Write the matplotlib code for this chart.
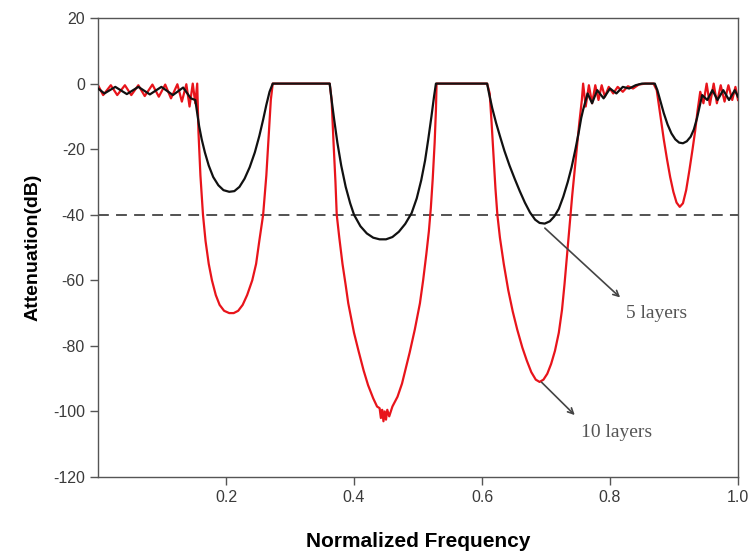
import matplotlib.pyplot as plt

plt.rcParams["axes.unicode_minus"] = False

# 5 layers (black)
x5 = [0.0, 0.01, 0.027, 0.045, 0.063, 0.081, 0.099, 0.117, 0.133, 0.145, 0.152,
      0.155, 0.158, 0.162, 0.167, 0.173, 0.18, 0.188, 0.196, 0.205, 0.213, 0.221, 0.229, 0.237,
      0.245, 0.252, 0.258, 0.263, 0.268, 0.273,
      0.362, 0.365, 0.369, 0.374, 0.38, 0.387, 0.394, 0.40, 0.41, 0.42, 0.43, 0.44, 0.45, 0.46,
      0.47, 0.48, 0.49, 0.498, 0.505, 0.511, 0.516, 0.521, 0.525, 0.528,
      0.608, 0.611, 0.616, 0.622, 0.628, 0.635, 0.643, 0.651, 0.659, 0.667, 0.675, 0.683, 0.69,
      0.698, 0.706, 0.713, 0.72, 0.727, 0.734, 0.74, 0.746, 0.751, 0.755, 0.758,
      0.765, 0.772, 0.78, 0.79, 0.80, 0.81, 0.82, 0.83, 0.84, 0.85, 0.87,
      0.874, 0.879, 0.884, 0.89, 0.896, 0.902, 0.908, 0.914, 0.92, 0.926, 0.931, 0.936, 0.94, 0.944,
      0.952, 0.96, 0.968, 0.977, 0.986, 0.995, 1.0]
y5 = [-1.5, -3.0, -1.0, -3.2, -1.0, -3.3, -1.0, -3.5, -1.2, -4.5, -5,
      -9, -13, -17, -21, -25, -28.5, -31, -32.5, -33, -32.8, -31.5, -29, -25.5,
      -21, -16, -11, -6.5, -2.5, 0,
      0, -5, -11, -18, -25, -31.5, -36.5, -40, -43.5, -45.7, -47, -47.5, -47.5, -46.8,
      -45.2, -42.8, -39.5, -35, -29.5, -23.5, -17, -10, -4, 0,
      0, -3, -7.5, -12, -16, -20.5, -25, -29, -32.8, -36.3, -39.3, -41.5, -42.5,
      -42.7, -42, -40.5, -38.2, -34.5, -30, -25.5, -20, -15, -10.5, -8,
      -3, -6, -2, -4.5, -1.5, -3, -1, -1.5, -0.5, 0, 0,
      -2, -5.5, -9, -12.5, -15.2, -17, -18, -18.2, -17.6, -16.2, -14, -10.5, -7, -3.5,
      -5, -2, -5, -2, -5, -2, -4]

# 10 layers (red)
x10 = [0.0, 0.008, 0.02, 0.03, 0.042, 0.052, 0.063, 0.073, 0.085, 0.095, 0.105, 0.114,
       0.124, 0.131, 0.138, 0.143, 0.148, 0.152, 0.155,
       0.157, 0.16, 0.164, 0.168, 0.173, 0.178, 0.184, 0.19, 0.197, 0.205, 0.212, 0.219, 0.226,
       0.233, 0.241, 0.247, 0.252, 0.258, 0.263, 0.267, 0.27, 0.273,
       0.362, 0.365, 0.368, 0.371, 0.373, 0.377, 0.382, 0.387, 0.391, 0.396, 0.40, 0.407, 0.415,
       0.422, 0.43, 0.436,
       0.44, 0.442, 0.444, 0.446, 0.448, 0.45, 0.452, 0.455, 0.46,
       0.468, 0.475, 0.48, 0.487, 0.495, 0.503, 0.508, 0.513, 0.517, 0.52, 0.523, 0.526, 0.528, 0.529,
       0.608, 0.612, 0.615, 0.618, 0.621, 0.624, 0.628, 0.634, 0.641, 0.648, 0.655, 0.663, 0.67,
       0.677, 0.684, 0.69, 0.696, 0.702, 0.708, 0.714, 0.72, 0.725, 0.729, 0.733, 0.737, 0.741,
       0.745, 0.749, 0.752, 0.756,
       0.758, 0.762, 0.767, 0.772, 0.777, 0.782, 0.787, 0.792, 0.798, 0.805, 0.812, 0.82, 0.828,
       0.836, 0.845, 0.855, 0.868,
       0.873, 0.876, 0.88, 0.884, 0.889, 0.894, 0.899, 0.904, 0.909, 0.914, 0.919, 0.924, 0.929,
       0.933, 0.937, 0.941,
       0.946, 0.951, 0.956, 0.962, 0.967, 0.973, 0.979, 0.985, 0.991, 0.996, 1.0]
y10 = [-0.5, -3.5, -0.5, -3.5, -0.5, -3.5, -0.5, -3.8, -0.3, -4.0, -0.3, -4.5,
       -0.2, -5.5, -0.2, -7, 0, -6, 0,
       -15, -28, -40, -48, -55, -60, -64.5, -67.5, -69.3, -70, -70, -69.3, -67.5,
       -64.5, -60, -55, -48, -40, -28, -15, -5, 0,
       0, -5, -18, -30, -40, -47, -55, -61.5, -67, -72, -76, -81.5, -87.5,
       -92, -96, -98.5,
       -99, -102, -99.5, -103, -100, -102.5, -99.5, -101.5, -98.5,
       -95.5, -91.5, -87.5, -82, -75, -67, -60, -52, -45, -38, -29, -18, -8, 0,
       0, -3, -12, -22, -32, -40, -47, -55, -63, -69.5, -75, -80.5, -84.5,
       -88, -90.3, -91, -90.3, -88.5, -85.5, -81.5, -76, -69, -61, -52, -43, -34,
       -26, -18, -12, -5,
       0, -7, -0.5, -6, -0.5, -5, -0.5, -4, -1, -3, -1, -2.5, -0.8,
       -1.5, -0.3, 0, 0,
       -2, -6, -11.5, -17, -23, -28.5, -33, -36.3, -37.6, -36.5, -32.5, -26.5, -20,
       -14.5, -8, -2.5,
       -6, 0, -6.5, 0, -6, -0.5, -5.5, -0.5, -5, -1, -5]

threshold = -40
yticks = [20, 0, -20, -40, -60, -80, -100, -120]
xticks = [0.2, 0.4, 0.6, 0.8, 1.0]

fig = plt.figure(figsize=(7.5, 5.53), dpi=100)
ax = fig.add_axes([0.1307, 0.1374, 0.8533, 0.830])

ax.axhline(threshold, color="#444444", lw=1.3, ls=(0, (6, 4)), zorder=1)
ax.plot(x10, y10, color="#e8141b", lw=1.6, zorder=2)
ax.plot(x5, y5, color="#111111", lw=1.6, zorder=3)

ax.set_xlim(0, 1.0)
ax.set_ylim(-120, 20)
ax.set_xticks(xticks)
ax.set_xticklabels(["0.2", "0.4", "0.6", "0.8", "1.0"])
ax.set_yticks(yticks)

for s in ax.spines.values():
    s.set_color("#555555")
    s.set_linewidth(1.0)
ax.tick_params(direction="out", length=6, width=1, color="#555555",
               labelsize=11.5, labelcolor="#3a3a3a")
for lab in ax.get_xticklabels() + ax.get_yticklabels():
    lab.set_family("Liberation Sans")

ax.set_xlabel("Normalized Frequency", fontsize=15, fontweight="bold",
              family="Liberation Sans", labelpad=19)
ax.set_ylabel("Attenuation(dB)", fontsize=14, fontweight="bold",
              family="Liberation Sans", labelpad=8)

arrow = dict(arrowstyle="->", color="#444444", lw=1.2)
ax.annotate("", xy=(0.819, -65.8), xytext=(0.695, -43.5), arrowprops=arrow)
ax.text(0.872, -70, "5 layers", family="Liberation Serif", fontsize=14,
        color="#555555", ha="center", va="center")
ax.annotate("", xy=(0.748, -101.7), xytext=(0.69, -90.5), arrowprops=arrow)
ax.text(0.81, -106.4, "10 layers", family="Liberation Serif", fontsize=14,
        color="#555555", ha="center", va="center")

fig.savefig("out.png", dpi=100)
